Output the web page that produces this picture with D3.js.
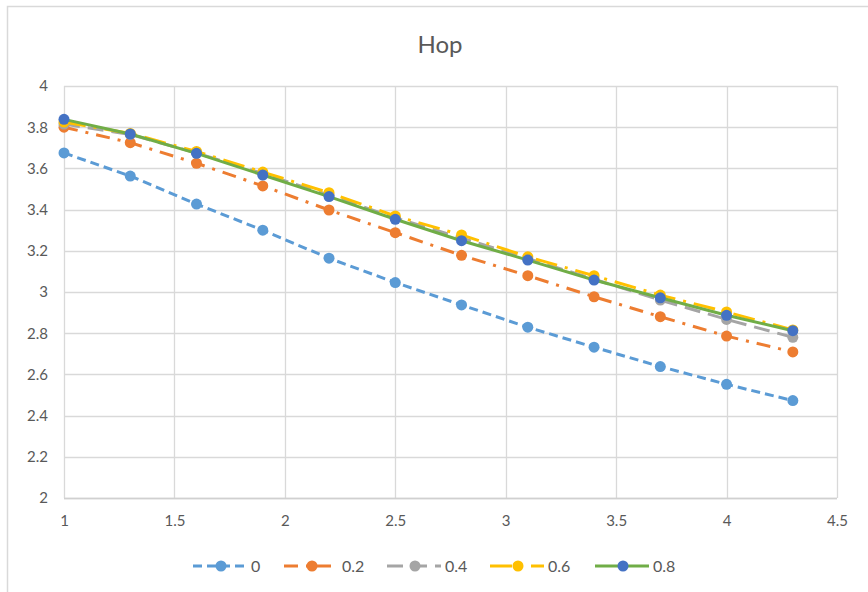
<!DOCTYPE html>
<html>
<head>
<meta charset="utf-8">
<script src="https://cdn.jsdelivr.net/npm/d3@7"></script>
<style>
  html, body { margin: 0; padding: 0; background: #fff; }
  svg { display: block; font-family: Lato, "Open Sans", "Liberation Sans", sans-serif; }
</style>
</head>
<body>
<svg id="chart" width="868" height="592"></svg>
<script>
// Series data
const xValues = [1, 1.3, 1.6, 1.9, 2.2, 2.5, 2.8, 3.1, 3.4, 3.7, 4.0, 4.3];
const seriesNames = ["0", "0.2", "0.4", "0.6", "0.8"];
const hop0  = [3.675, 3.563, 3.427, 3.300, 3.164, 3.046, 2.937, 2.829, 2.732, 2.638, 2.552, 2.473];
const hop02 = [3.800, 3.725, 3.625, 3.515, 3.398, 3.288, 3.178, 3.079, 2.977, 2.880, 2.786, 2.709];
const hop04 = [3.815, 3.765, 3.675, 3.575, 3.470, 3.360, 3.262, 3.162, 3.062, 2.961, 2.867, 2.780];
const hop06 = [3.825, 3.770, 3.682, 3.582, 3.482, 3.369, 3.277, 3.171, 3.079, 2.985, 2.903, 2.816];
const hop08 = [3.838, 3.767, 3.673, 3.568, 3.463, 3.353, 3.249, 3.155, 3.058, 2.972, 2.887, 2.812];
const xTicks = [1, 1.5, 2, 2.5, 3, 3.5, 4, 4.5];
const yTicks = [2, 2.2, 2.4, 2.6, 2.8, 3, 3.2, 3.4, 3.6, 3.8, 4];

const seriesValues = [hop0, hop02, hop04, hop06, hop08];
const styles = [
  { line: "#5B9BD5", marker: "#5B9BD5", dash: "9,5" },
  { line: "#ED7D31", marker: "#ED7D31", dash: "14,8,3,8" },
  { line: "#A5A5A5", marker: "#A5A5A5", dash: "16,8" },
  { line: "#FFC000", marker: "#FFC000", dash: "22,8,3,8" },
  { line: "#70AD47", marker: "#4472C4", dash: null }
];

const svg = d3.select("#chart");
const textColor = "#595959";
const gridColor = "#D9D9D9";

// Chart frame
svg.append("rect")
  .attr("x", 7.5).attr("y", 6.5)
  .attr("width", 900).attr("height", 700)
  .attr("fill", "#fff").attr("stroke", "#D9D9D9").attr("stroke-width", 1.5);

// Title
svg.append("text")
  .attr("x", 440).attr("y", 53)
  .attr("text-anchor", "middle")
  .attr("font-size", 24)
  .attr("fill", textColor)
  .text("Hop");

const x = d3.scaleLinear().domain([1, 4.5]).range([64, 837]);
const y = d3.scaleLinear().domain([2, 4]).range([498, 86]);

// Gridlines
const grid = svg.append("g");
grid.selectAll("line.h").data(yTicks).join("line")
  .attr("x1", x(1)).attr("x2", x(4.5))
  .attr("y1", d => Math.round(y(d)) + 0.5).attr("y2", d => Math.round(y(d)) + 0.5)
  .attr("stroke", gridColor).attr("stroke-width", 1.3);
grid.selectAll("line.v").data(xTicks).join("line")
  .attr("y1", y(2)).attr("y2", y(4))
  .attr("x1", d => Math.round(x(d)) + 0.5).attr("x2", d => Math.round(x(d)) + 0.5)
  .attr("stroke", gridColor).attr("stroke-width", 1.3);

// Axes (labels only; lines come from the grid)
const fmt = d => String(d);
const yAxis = svg.append("g").attr("transform", `translate(${x(1)},0)`)
  .call(d3.axisLeft(y).tickValues(yTicks).tickFormat(fmt).tickSize(0).tickPadding(16));
const xAxis = svg.append("g").attr("transform", `translate(0,${y(2)})`)
  .call(d3.axisBottom(x).tickValues(xTicks).tickFormat(fmt).tickSize(0).tickPadding(17));
[xAxis, yAxis].forEach(a => {
  a.select(".domain").remove();
  a.selectAll("text").attr("fill", textColor).attr("font-size", 15)
    .attr("font-family", "Lato, 'Open Sans', sans-serif");
});
svg.append("line")
  .attr("x1", x(1)).attr("x2", x(4.5))
  .attr("y1", Math.round(y(2)) + 0.5).attr("y2", Math.round(y(2)) + 0.5)
  .attr("stroke", "#D0D0D0").attr("stroke-width", 1.5);

// Series lines and markers
const line = d3.line().x((d, i) => x(xValues[i])).y(d => y(d));
seriesValues.forEach((vals, s) => {
  const st = styles[s];
  const g = svg.append("g");
  g.append("path")
    .attr("d", line(vals))
    .attr("fill", "none")
    .attr("stroke", st.line)
    .attr("stroke-width", 3)
    .attr("stroke-dasharray", st.dash);
  g.selectAll("circle").data(vals).join("circle")
    .attr("cx", (d, i) => x(xValues[i]))
    .attr("cy", d => y(d))
    .attr("r", 5.5)
    .attr("fill", st.marker);
});

// Legend
const legendY = 566;
const legendX = [193, 284, 387, 490, 595];
seriesNames.forEach((name, s) => {
  const st = styles[s];
  const g = svg.append("g").attr("transform", `translate(${legendX[s]},${legendY})`);
  g.append("line")
    .attr("x1", 0).attr("x2", 54).attr("y1", 0).attr("y2", 0)
    .attr("stroke", st.line).attr("stroke-width", 3)
    .attr("stroke-dasharray", st.dash);
  g.append("circle").attr("cx", 28).attr("cy", 0).attr("r", 5.5).attr("fill", st.marker);
  g.append("text")
    .attr("x", 58).attr("y", 6)
    .attr("font-size", 16)
    .attr("fill", textColor)
    .text(name);
});
</script>
</body>
</html>
